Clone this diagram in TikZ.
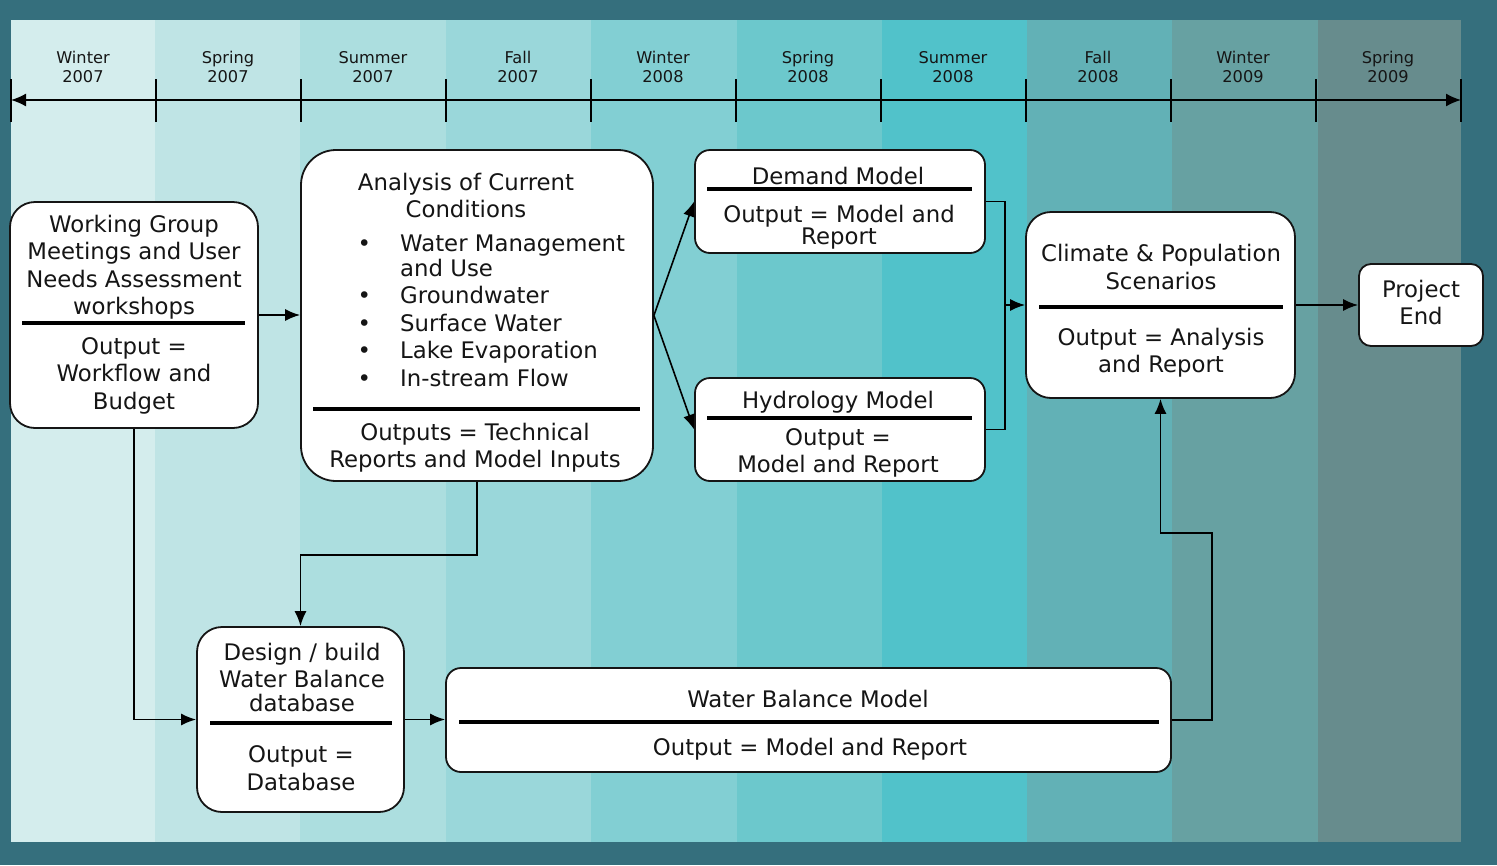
\documentclass[tikz,border=0pt]{standalone}
\usepackage{fontspec}
\setmainfont{DejaVu Sans}
\usetikzlibrary{arrows.meta}
\definecolor{bgout}{HTML}{356F7D}
\definecolor{ca}{HTML}{D4EDED}
\definecolor{cb}{HTML}{BFE4E5}
\definecolor{cc}{HTML}{ACDEDF}
\definecolor{cd}{HTML}{9AD7DA}
\definecolor{ce}{HTML}{82CFD3}
\definecolor{cf}{HTML}{6CC8CC}
\definecolor{cg}{HTML}{51C2CA}
\definecolor{ch}{HTML}{62B1B6}
\definecolor{ci}{HTML}{67A1A2}
\definecolor{cj}{HTML}{678C8D}
\definecolor{ink}{HTML}{151515}
\newcommand\mybul{\makebox[42.5pt][l]{•}}
\begin{document}
\begin{tikzpicture}[x=1pt,y=-1pt,
  box/.style={draw=ink, line width=1.8pt, fill=white, rounded corners=#1, inner sep=0pt},
  box/.default=25pt,
  txt/.style={text=ink, font=\fontsize{22.8}{27.5}\selectfont, align=center, inner sep=0pt, yshift=-1.5pt},
  season/.style={text=ink, font=\fontsize{16.2}{19}\selectfont, align=center, inner sep=0pt, yshift=-1pt},
  divider/.style={draw=black, line width=4.2pt},
  conn/.style={draw=black, line width=1.6pt},
  arr/.style={conn, -{Latex[length=15pt,width=12pt]}},
  tick/.style={draw=black, line width=1.6pt}]
\useasboundingbox (0,0) rectangle (1497,865);
\fill[bgout] (0,0) rectangle (1497,865);
% season columns
\fill[ca] (11,20) rectangle (155,842);
\fill[cb] (155,20) rectangle (300,842);
\fill[cc] (300,20) rectangle (446,842);
\fill[cd] (446,20) rectangle (591,842);
\fill[ce] (591,20) rectangle (737,842);
\fill[cf] (737,20) rectangle (882,842);
\fill[cg] (882,20) rectangle (1027,842);
\fill[ch] (1027,20) rectangle (1172,842);
\fill[ci] (1172,20) rectangle (1318,842);
\fill[cj] (1318,20) rectangle (1461,842);
% timeline
\foreach \i/\x in {0/11,1/156,2/301,3/446,4/591,5/736,6/881,7/1026,8/1171,9/1316,10/1461}{
  \coordinate (t\i) at (\x,100);
  \draw[tick] (\x,79) -- (\x,122);
}
\coordinate (tm) at (736,100);
\draw[conn, -{Latex[length=15pt,width=13pt]}] (tm) -- (t0);
\draw[conn, -{Latex[length=15pt,width=13pt]}] (tm) -- (t10);
\node[season] (s1) at (83,66) {Winter\\2007};
\node[season] (s2) at (228,66) {Spring\\2007};
\node[season] (s3) at (373,66) {Summer\\2007};
\node[season] (s4) at (518,66) {Fall\\2007};
\node[season] (s5) at (663,66) {Winter\\2008};
\node[season] (s6) at (808,66) {Spring\\2008};
\node[season] (s7) at (953,66) {Summer\\2008};
\node[season] (s8) at (1098,66) {Fall\\2008};
\node[season] (s9) at (1243,66) {Winter\\2009};
\node[season] (s10) at (1388,66) {Spring\\2009};
% boxes
\node[box, minimum width=248pt, minimum height=226pt] (A) at (134,315) {};
\node[box=35pt, minimum width=352pt, minimum height=331pt] (B) at (477,315.5) {};
\node[box=15pt, minimum width=290pt, minimum height=103pt] (C) at (840,201.5) {};
\node[box=15pt, minimum width=290pt, minimum height=103pt] (D) at (840,429.5) {};
\node[box, minimum width=269pt, minimum height=186pt] (E) at (1160.5,305) {};
\node[box=12pt, minimum width=124pt, minimum height=82pt] (F) at (1421,305) {};
\node[box, minimum width=207pt, minimum height=185pt] (G) at (300.5,719.5) {};
\node[box=15pt, minimum width=725pt, minimum height=104pt] (H) at (808.5,720) {};
% dividers
\draw[divider] (22,323) -- (245,323);
\draw[divider] (313,409) -- (640,409);
\draw[divider] (707,189) -- (972,189);
\draw[divider] (707,418) -- (972,418);
\draw[divider] (1039,307) -- (1283,307);
\draw[divider] (210,723) -- (392,723);
\draw[divider] (459,722) -- (1159,722);
% texts
\node[txt] (A1) at (134,265.5) {Working Group\\Meetings and User\\Needs Assessment\\workshops};
\node[txt] (A2) at (134,374) {Output =\\Workflow and\\Budget};
\node[txt] (B1) at (466,194) {Analysis of Current\\Conditions};
\node[txt, align=left, anchor=west] (B2) at (357.5,309.5) {\mybul Water Management\\[-3pt]\hspace*{42.5pt}and Use\\\mybul Groundwater\\\mybul Surface Water\\\mybul Lake Evaporation\\\mybul In-stream Flow};
\node[txt] (B3) at (475,446) {Outputs = Technical\\Reports and Model Inputs};
\node[txt] (C1) at (838,174) {Demand Model};
\node[txt] (C2) at (839,226) {Output = Model and\\[-5.5pt]Report};
\node[txt] (D1) at (838,401) {Hydrology Model};
\node[txt] (D2) at (838,451.5) {Output =\\Model and Report};
\node[txt] (E1) at (1161,265.5) {Climate \& Population\\Scenarios};
\node[txt] (E2) at (1161,351) {Output = Analysis\\and Report};
\node[txt] (F1) at (1421,301) {Project\\End};
\node[txt] (G1) at (302,676) {Design / build\\Water Balance\\[-3.5pt]database};
\node[txt] (G2) at (301,766.5) {Output =\\Database};
\node[txt] (H1) at (808,697) {Water Balance Model};
\node[txt] (H2) at (810,748) {Output = Model and Report};
% connectors
\coordinate (J) at (1005,305);
\coordinate (K) at (1212,533);
\draw[arr] (A.east) -- (A.east -| B.west);
\draw[arr] (B.east) -- (C.west);
\draw[arr] (B.east) -- (D.west);
\draw[conn] (C.east) -| (J);
\draw[conn] (D.east) -| (J);
\draw[arr] (J) -- (E.west);
\draw[arr] (E.east) -- (F.west);
\draw[arr] (A.south) |- (G.west);
\draw[arr] (B.south) -- ++(0,73) -| (G.north);
\draw[arr] (G.east) -- (G.east -| H.west);
\draw[arr] (H.east) -| (K) -| (E.south);
\end{tikzpicture}
\end{document}
